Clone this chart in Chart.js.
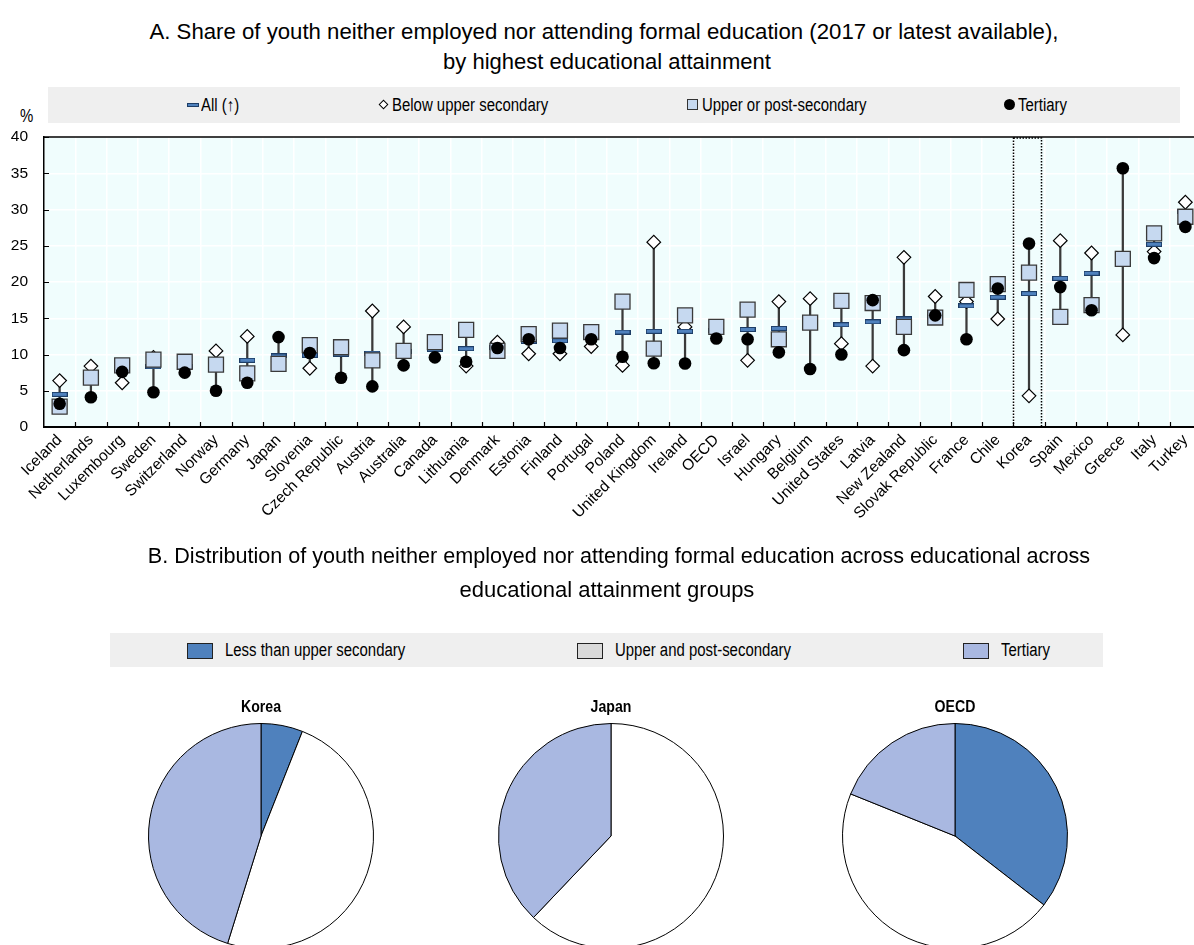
<!DOCTYPE html>
<html>
<head>
<meta charset="utf-8">
<title>Youth neither employed nor in education</title>
<script src="https://cdn.jsdelivr.net/npm/chart.js@4.4.1/dist/chart.umd.min.js"></script>
<style>
  html, body { margin: 0; padding: 0; background: #fff; overflow: hidden; width: 1194px; height: 945px; }
  body { position: relative; color: #000; font-family: 'Liberation Sans', Arial, sans-serif; }
  .title { position: absolute; width: 1194px; text-align: center; font-size: 22px; line-height: 30px; white-space: nowrap; }
  .band { position: absolute; background: #efefef; }
  .item { position: absolute; font-size: 18px; line-height: 20px; white-space: nowrap; transform: scaleX(0.83); transform-origin: 0 50%; }
  .mk { position: absolute; box-sizing: border-box; }
  canvas { position: absolute; }
</style>
</head>
<body>
<div class="title" style="left:7px;top:17px;font-size:22.2px">A. Share of youth neither employed nor attending formal education (2017 or latest available),</div>
<div class="title" style="left:10px;top:47px">by highest educational attainment</div>

<div class="band" style="left:48px;top:87px;width:1132px;height:36px"></div>
<div class="mk" style="left:187px;top:103px;width:12px;height:4px;background:#4f81bd;border:1px solid #1d3d66"></div>
<div class="item" style="left:201px;top:95px">All (↑)</div>
<div class="mk" style="left:380px;top:101px;width:7px;height:7px;background:#fff;border:1px solid #000;transform:rotate(45deg)"></div>
<div class="item" style="left:392px;top:95px">Below upper secondary</div>
<div class="mk" style="left:687px;top:99px;width:11px;height:11px;background:#c6d9f0;border:1px solid #333"></div>
<div class="item" style="left:702px;top:95px">Upper or post-secondary</div>
<div class="mk" style="left:1004px;top:99px;width:11px;height:11px;background:#000;border-radius:50%"></div>
<div class="item" style="left:1018px;top:95px">Tertiary</div>
<div class="item" style="left:20px;top:106px">%</div>

<canvas id="panelA" width="1215" height="545" style="left:0;top:0"></canvas>

<div class="title" style="left:22px;top:541px;font-size:21.6px">B. Distribution of youth neither employed nor attending formal education across educational across</div>
<div class="title" style="left:10px;top:575px">educational attainment groups</div>

<div class="band" style="left:110px;top:633px;width:993px;height:34px"></div>
<div class="mk" style="left:187px;top:643px;width:26px;height:16px;background:#4f81bd;border:1px solid #222"></div>
<div class="item" style="left:225px;top:640px">Less than upper secondary</div>
<div class="mk" style="left:577px;top:643px;width:26px;height:16px;background:#d9d9d9;border:1px solid #222"></div>
<div class="item" style="left:615px;top:640px">Upper and post-secondary</div>
<div class="mk" style="left:963px;top:643px;width:26px;height:16px;background:#a9b8e1;border:1px solid #222"></div>
<div class="item" style="left:1001px;top:640px">Tertiary</div>

<canvas id="pieKorea" width="260" height="280" style="left:131px;top:690px"></canvas>
<canvas id="pieJapan" width="260" height="280" style="left:481px;top:690px"></canvas>
<canvas id="pieOECD" width="260" height="280" style="left:825px;top:690px"></canvas>

<script>
// Panel A: NEET rates by educational attainment, sorted by the overall rate
const countries = ['Iceland','Netherlands','Luxembourg','Sweden','Switzerland','Norway','Germany','Japan','Slovenia','Czech Republic','Austria','Australia','Canada','Lithuania','Denmark','Estonia','Finland','Portugal','Poland','United Kingdom','Ireland','OECD','Israel','Hungary','Belgium','United States','Latvia','New Zealand','Slovak Republic','France','Chile','Korea','Spain','Mexico','Greece','Italy','Turkey'];
const allLevels = [4.5,6.3,7.9,8.3,8.4,8.6,9.2,9.8,9.9,10.0,10.2,10.4,10.7,10.8,10.9,11.8,11.9,12.3,13.1,13.2,13.2,13.3,13.45,13.6,13.9,14.1,14.5,14.9,15.3,16.7,17.9,18.4,20.5,21.2,22.4,25.2,29.7];
const belowUpperSecondary = [6.4,8.4,6.1,9.6,8.9,10.5,12.5,9.0,8.1,10.6,16.0,13.8,11.2,8.4,11.7,10.1,10.1,11.1,8.5,25.5,13.8,13.6,9.2,17.3,17.7,11.5,8.4,23.4,18.0,17.3,14.9,4.3,25.7,24.0,12.7,24.2,31.0];
const upperPostSecondary = [2.8,6.8,8.5,9.3,9.0,8.6,7.4,8.7,11.3,11.0,9.2,10.5,11.7,13.4,10.5,12.8,13.3,13.1,17.3,10.8,15.4,13.8,16.2,12.1,14.4,17.4,17.1,13.8,15.1,18.9,19.7,21.3,15.2,16.8,23.2,26.7,29.0];
const tertiary = [3.2,4.1,7.6,4.8,7.5,5.0,6.1,12.4,10.2,6.8,5.6,8.5,9.6,9.0,10.9,12.1,10.9,12.1,9.7,8.8,8.75,12.2,12.1,10.3,8.0,10.0,17.5,10.6,15.4,12.1,19.1,25.3,19.3,16.1,35.7,23.3,27.6];
const yTicks = [0, 5, 10, 15, 20, 25, 30, 35, 40];
const highlighted = 'Korea';

// Panel B: distribution of NEETs across attainment groups (%)
const attainmentGroups = ['Less than upper secondary', 'Upper and post-secondary', 'Tertiary'];
const pieKorea = [6.0, 48.8, 45.2];
const pieJapan = [0, 62.1, 37.9];
const pieOECD = [35.5, 45.6, 18.9];

const FONT = "'Liberation Sans', Arial, sans-serif";

// min–max range line for every country
const ranges = countries.map((_, i) => {
  const v = [allLevels[i], belowUpperSecondary[i], upperPostSecondary[i], tertiary[i]];
  return [Math.min(...v), Math.max(...v)];
});

// horizontal dash marker for the overall rate
function makeDash() {
  const c = document.createElement('canvas');
  c.width = 16; c.height = 5;
  const g = c.getContext('2d');
  g.fillStyle = '#1d3d66';
  g.fillRect(0, 0, 16, 5);
  g.fillStyle = '#4f81bd';
  g.fillRect(1, 1, 14, 3);
  return c;
}

const panelFrame = {
  id: 'panelFrame',
  beforeDraw(chart) {
    const { ctx, chartArea: a } = chart;
    ctx.save();
    ctx.fillStyle = '#f0fdfd';
    ctx.fillRect(a.left, a.top, a.right - a.left, a.bottom - a.top);
    ctx.restore();
  },
  afterDraw(chart) {
    const { ctx, chartArea: a, scales } = chart;
    const x = scales.x, y = scales.y;
    ctx.save();
    ctx.strokeStyle = '#000';
    ctx.lineWidth = 1.5;
    ctx.beginPath();
    ctx.moveTo(a.left, a.top); ctx.lineTo(a.right, a.top);
    ctx.stroke();
    // inward tick marks
    ctx.lineWidth = 1.2;
    ctx.beginPath();
    for (let i = 1; i < countries.length; i++) {
      const px = Math.round((x.getPixelForValue(i - 1) + x.getPixelForValue(i)) / 2) + 0.5;
      ctx.moveTo(px, a.bottom); ctx.lineTo(px, a.bottom - 5);
    }
    yTicks.forEach(t => {
      const py = Math.round(y.getPixelForValue(t)) + 0.5;
      ctx.moveTo(a.left, py); ctx.lineTo(a.left + 5, py);
    });
    ctx.stroke();
    // dotted frame around the highlighted country
    const k = countries.indexOf(highlighted);
    const half = (x.getPixelForValue(1) - x.getPixelForValue(0)) / 2;
    const cx = x.getPixelForValue(k);
    ctx.setLineDash([1.5, 1.5]);
    ctx.lineWidth = 1.5;
    ctx.strokeRect(Math.round(cx - half) + 0.5, a.top + 1, Math.round(2 * half - 3), a.bottom - a.top - 1);
    ctx.restore();
  }
};

new Chart(document.getElementById('panelA'), {
  data: {
    labels: countries,
    datasets: [
      { type: 'line', label: 'Tertiary', data: tertiary, showLine: false, order: 0,
        pointStyle: 'circle', pointRadius: 6.3, pointBackgroundColor: '#000', pointBorderColor: '#000', pointBorderWidth: 0 },
      { type: 'line', label: 'Upper or post-secondary', data: upperPostSecondary, showLine: false, order: 1,
        pointStyle: 'rect', pointRadius: 10.6, pointBackgroundColor: '#c6d9f0', pointBorderColor: '#3a3a3a', pointBorderWidth: 1.3 },
      { type: 'line', label: 'All (↑)', data: allLevels, showLine: false, order: 2,
        pointStyle: makeDash(), pointRadius: 8 },
      { type: 'line', label: 'Below upper secondary', data: belowUpperSecondary, showLine: false, order: 3,
        pointStyle: 'rectRot', pointRadius: 6.8, pointBackgroundColor: '#fff', pointBorderColor: '#000', pointBorderWidth: 1.2 },
      { type: 'bar', label: 'range', data: ranges, order: 4,
        backgroundColor: '#3a3a3a', barThickness: 1.6, borderWidth: 0 }
    ]
  },
  options: {
    responsive: false,
    animation: false,
    devicePixelRatio: 1,
    layout: { padding: { top: 137, left: 0, right: 14, bottom: 0 } },
    plugins: { legend: { display: false }, tooltip: { enabled: false }, title: { display: false } },
    scales: {
      x: {
        type: 'category', offset: true,
        grid: { offset: true, color: '#ffffff', lineWidth: 1.5, drawTicks: false },
        border: { color: '#000', width: 2 },
        ticks: { autoSkip: false, minRotation: 45, maxRotation: 45, padding: 4, color: '#000',
                 font: { family: FONT, size: 15.5 } },
        afterFit(s) { s.height = 118; }
      },
      y: {
        min: 0, max: 40,
        grid: { color: '#ffffff', lineWidth: 1.5, drawTicks: false },
        border: { color: '#000', width: 1.5 },
        ticks: { stepSize: 5, padding: 16, color: '#000', font: { family: FONT, size: 15.5 } },
        afterFit(s) { s.width = 44; }
      }
    }
  },
  plugins: [panelFrame]
});

// pie title drawn above each circle, in a condensed bold face
const pieTitle = {
  id: 'pieTitle',
  afterDraw(chart, args, opts) {
    const { ctx } = chart;
    ctx.save();
    ctx.translate(chart.width / 2, 17);
    ctx.scale(0.83, 1);
    ctx.font = 'bold 17px ' + FONT;
    ctx.fillStyle = '#000';
    ctx.textAlign = 'center';
    ctx.textBaseline = 'middle';
    ctx.fillText(opts.text, 0, 0);
    ctx.restore();
  }
};

function drawPie(id, name, values) {
  new Chart(document.getElementById(id), {
    type: 'pie',
    data: {
      labels: attainmentGroups,
      datasets: [{ data: values, backgroundColor: ['#4f81bd', '#ffffff', '#a9b8e1'],
                   borderColor: '#000', borderWidth: 1 }]
    },
    options: {
      responsive: false, animation: false, devicePixelRatio: 1,
      layout: { padding: { top: 33, bottom: 21, left: 17, right: 17 } },
      plugins: { legend: { display: false }, tooltip: { enabled: false }, pieTitle: { text: name } }
    },
    plugins: [pieTitle]
  });
}

drawPie('pieKorea', 'Korea', pieKorea);
drawPie('pieJapan', 'Japan', pieJapan);
drawPie('pieOECD', 'OECD', pieOECD);
</script>
</body>
</html>
